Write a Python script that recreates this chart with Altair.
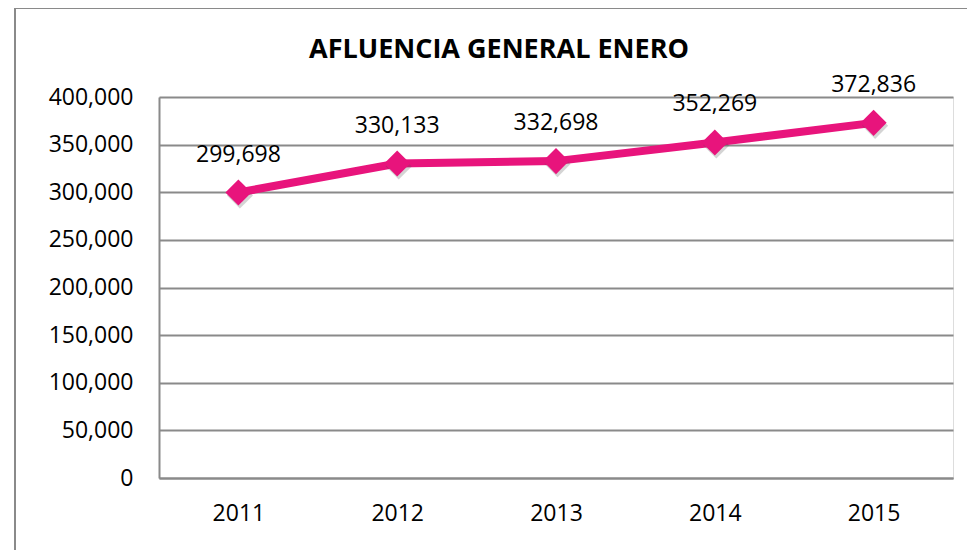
import altair as alt
import pandas as pd

years = ["2011", "2012", "2013", "2014", "2015"]
visitors = [299698, 330133, 332698, 352269, 372836]
y_ticks = [0, 50000, 100000, 150000, 200000, 250000, 300000, 350000, 400000]
title_text = "AFLUENCIA GENERAL ENERO"

df = pd.DataFrame({"year": years, "value": visitors})

PINK = "#E8147C"
GRAY = "#8A8A8A"
FONT = "Open Sans"

x_enc = alt.X("year:N", sort=years,
              axis=alt.Axis(title=None, labelAngle=0, tickSize=0, ticks=False,
                            labelPadding=42, labelBaseline="alphabetic",
                            labelFontSize=23, labelFont=FONT, labelColor="#000000",
                            domainColor=GRAY, domainWidth=2, grid=False))
y_enc = alt.Y("value:Q",
              scale=alt.Scale(domain=[0, 400000], nice=False),
              axis=alt.Axis(title=None, values=y_ticks, format=",.0f", tickSize=0, ticks=False,
                            labelPadding=26, labelFontSize=23, labelFont=FONT,
                            labelColor="#000000", domainColor=GRAY, domainWidth=2,
                            gridColor=GRAY, gridWidth=2, gridOpacity=1))

base = alt.Chart(df)
one = pd.DataFrame({"t": [title_text]})

frame = alt.Chart(one).mark_rect(
    fill="transparent", stroke=GRAY, strokeWidth=2
).encode(x=alt.value(-144), x2=alt.value(900), y=alt.value(-89), y2=alt.value(520))

title = alt.Chart(one).mark_text(
    align="center", baseline="alphabetic", fontSize=27, font=FONT,
    fontWeight="bold", color="#000000"
).encode(x=alt.value(340), y=alt.value(-39), text="t:N")

line = base.mark_line(color=PINK, strokeWidth=8).encode(x=x_enc, y=y_enc)

shadow = base.mark_point(shape="diamond", size=680, filled=True, color="#555555",
                         opacity=0.25, xOffset=1.5, yOffset=3).encode(x=x_enc, y=y_enc)

points = base.mark_point(shape="diamond", size=680, filled=True, opacity=1,
                         color=PINK).encode(x=x_enc, y=y_enc)

labels = base.mark_text(dy=-31, baseline="alphabetic", align="center",
                        fontSize=23, font=FONT, color="#000000").encode(
    x=x_enc, y=y_enc, text=alt.Text("value:Q", format=","))

chart = alt.layer(frame, title, line, shadow, points, labels).properties(
    width=794, height=381,
    autosize=alt.AutoSizeParams(type="none"),
    padding={"left": 151, "top": 89, "right": 14, "bottom": 72},
).configure_view(stroke=None).configure(background="white")

chart.save("out.html", embed_options={"renderer": "svg", "actions": False})
